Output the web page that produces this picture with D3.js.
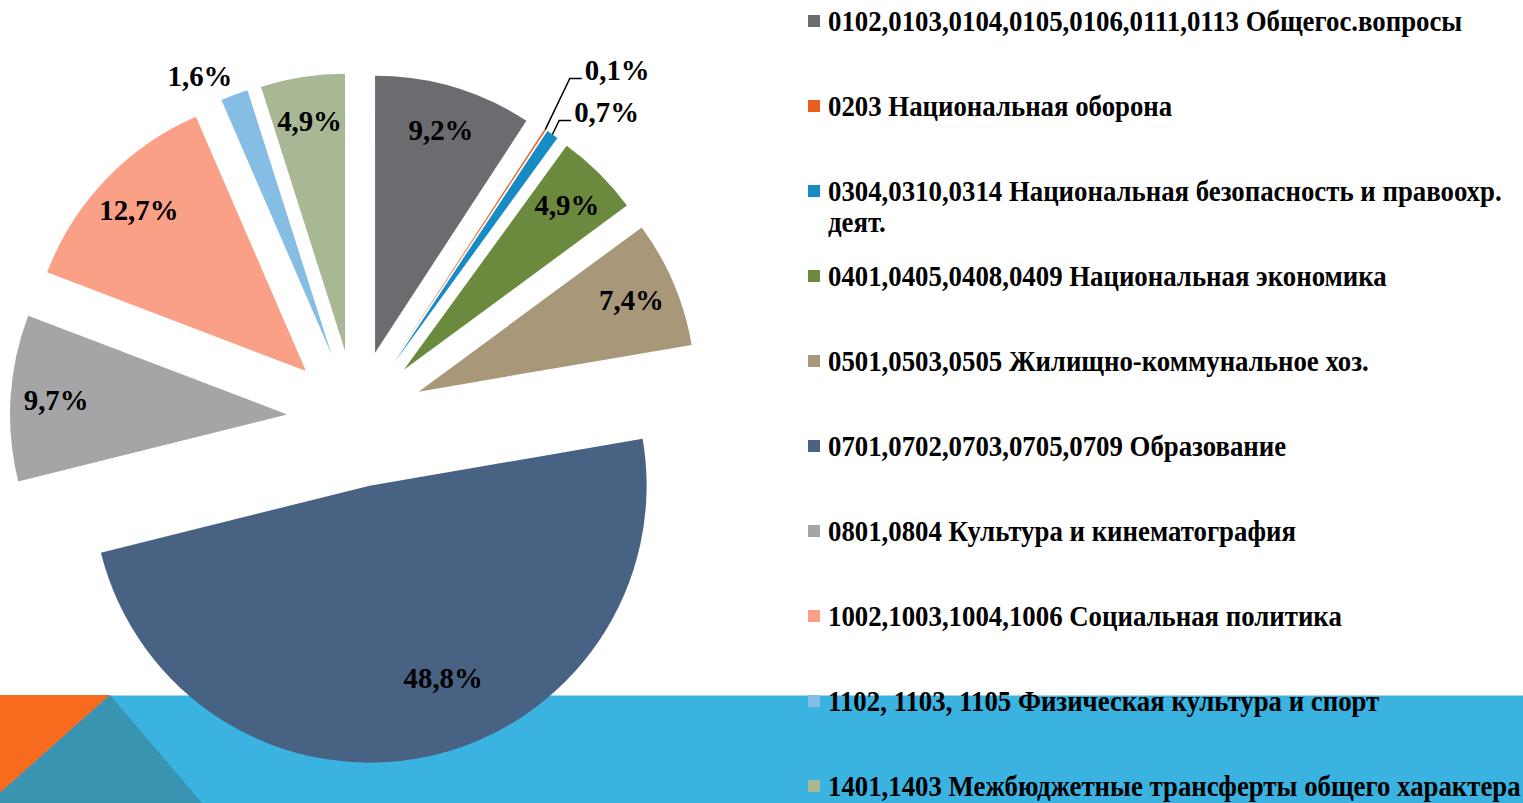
<!DOCTYPE html>
<html>
<head>
<meta charset="utf-8">
<script src="https://cdn.jsdelivr.net/npm/d3@7"></script>
<style>
  body { margin: 0; background: #fff; overflow: hidden; }
  svg { display: block; }
</style>
</head>
<body>
<div id="chart"></div>
<script>
// budget structure, percent
var categories = [
  "0102,0103,0104,0105,0106,0111,0113 Общегос.вопросы",
  "0203 Национальная оборона",
  "0304,0310,0314 Национальная безопасность и правоохр. деят.",
  "0401,0405,0408,0409 Национальная экономика",
  "0501,0503,0505 Жилищно-коммунальное хоз.",
  "0701,0702,0703,0705,0709 Образование",
  "0801,0804 Культура и кинематография",
  "1002,1003,1004,1006 Социальная политика",
  "1102, 1103, 1105 Физическая культура и спорт",
  "1401,1403 Межбюджетные трансферты общего характера"
];
var values = [9.2, 0.1, 0.7, 4.9, 7.4, 48.8, 9.7, 12.7, 1.6, 4.9];
var labels = ["9,2%", "0,1%", "0,7%", "4,9%", "7,4%", "48,8%", "9,7%", "12,7%", "1,6%", "4,9%"];
var colors = ["#6b6b70", "#e8601c", "#168bc4", "#6b8a3e", "#a9977a",
              "#476282", "#a5a5a7", "#f9a086", "#86bde4", "#a8b894"];

var W = 1523, H = 803;
var svg = d3.select("#chart").append("svg")
  .attr("width", W).attr("height", H);

// slide background: blue band with triangles at the bottom
var bandTop = 695;
svg.append("rect").attr("x", 0).attr("y", bandTop).attr("width", W).attr("height", H - bandTop)
  .attr("fill", "#3ab3e0");
svg.append("line").attr("x1", 0).attr("x2", W).attr("y1", bandTop + 0.5).attr("y2", bandTop + 0.5)
  .attr("stroke", "#9ed8ef").attr("stroke-width", 1);
svg.append("polygon").attr("points", "0," + bandTop + " 110," + bandTop + " 0,793")
  .attr("fill", "#f86b1e");
svg.append("polygon").attr("points", "110," + bandTop + " 0,793 0," + H + " 202," + H)
  .attr("fill", "#3994b2");

var font = "'Liberation Serif', 'Times New Roman', serif";

// bold serif text squeezed horizontally (like the condensed Times in the original)
function sText(parent, x, y, str, size, sx, anchor) {
  return parent.append("text")
    .attr("transform", "translate(" + x + "," + y + ") scale(" + sx + ",1)")
    .attr("font-family", font).attr("font-weight", "bold").attr("font-size", size)
    .attr("fill", "#000").attr("dominant-baseline", "central")
    .attr("text-anchor", anchor || "start")
    .text(str);
}

// pie
var cx = 355.5, cy = 418.5, R = 277, explode = 68.6;

var pie = d3.pie().sort(null).value(function(d) { return d; });
var arcs = pie(values);
var arc = d3.arc().innerRadius(0).outerRadius(R);

function mid(d) { return (d.startAngle + d.endAngle) / 2; }
function dir(a) { return [Math.sin(a), -Math.cos(a)]; }

var g = svg.append("g").attr("transform", "translate(" + cx + "," + cy + ")");

g.selectAll("path.slice")
  .data(arcs)
  .enter().append("path")
  .attr("class", "slice")
  .attr("d", arc)
  .attr("fill", function(d, i) { return colors[i]; })
  .attr("transform", function(d) {
    var v = dir(mid(d));
    return "translate(" + v[0] * explode + "," + v[1] * explode + ")";
  });

// data labels
var labSize = 30, labSx = 0.96;
var leaderCount = 0;
arcs.forEach(function(d, i) {
  var a = mid(d), v = dir(a);
  var vx = v[0] * explode, vy = v[1] * explode;

  if (d.value < 1) {
    // tiny slice: leader line out to the right
    var ox = vx + v[0] * R, oy = vy + v[1] * R;
    var ey = -340 + leaderCount * 42;
    var ex = ox + (oy - ey) * 0.48;
    g.append("polyline")
      .attr("points", [[ox, oy], [ex, ey], [ex + 12, ey]].map(function(p) { return p.join(","); }).join(" "))
      .attr("fill", "none").attr("stroke", "#000").attr("stroke-width", 1.5);
    sText(g, ex + 15, ey - 9, labels[i], labSize, labSx, "start");
    leaderCount++;
  } else if (d.value < 2) {
    var ox2 = vx + v[0] * R, oy2 = vy + v[1] * R;
    sText(g, ox2 - 2, oy2 - 19, labels[i], labSize, labSx, "end");
  } else {
    var f = 0.835, aa = a;
    if (d.value > 40) { f = 0.745; aa = a - 9 * Math.PI / 180; }
    var w = dir(aa);
    sText(g, vx + w[0] * R * f, vy + w[1] * R * f - 1, labels[i], labSize, labSx, "middle");
  }
});

// legend
var legX = 808, legY0 = 21, legStep = 85.0, maxW = 694, lineH = 31;
var legSize = 30, legSx = 0.894;
var legend = svg.append("g");
categories.forEach(function(name, i) {
  var y = legY0 + i * legStep;
  legend.append("rect")
    .attr("x", legX).attr("y", y - 6).attr("width", 12).attr("height", 12)
    .attr("fill", colors[i]);
  // wrap words into lines
  var words = name.split(" "), line = [], n = 0;
  var t = sText(legend, legX + 20, y, "", legSize, legSx, "start");
  words.forEach(function(wd) {
    line.push(wd);
    t.text(line.join(" "));
    if (t.node().getComputedTextLength() * legSx > maxW && line.length > 1) {
      line.pop();
      t.text(line.join(" "));
      line = [wd];
      n++;
      t = sText(legend, legX + 20, y + n * lineH, wd, legSize, legSx, "start");
    }
  });
});
</script>
</body>
</html>
